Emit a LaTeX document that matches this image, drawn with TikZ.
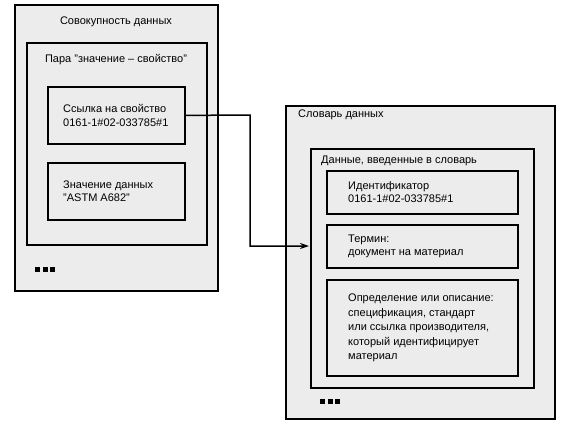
\documentclass[tikz,border=0pt]{standalone}
\usepackage{fontspec}
\setmainfont{Liberation Sans}
\usetikzlibrary{arrows.meta, positioning}

\definecolor{boxgray}{RGB}{236,236,236}

\begin{document}
\begin{tikzpicture}[
  x=1pt, y=-1pt,
  box/.style  = {draw, fill=boxgray, line width=1.8pt, anchor=north west,
                 inner sep=0pt},
  txt/.style  = {font=\fontsize{11}{13}\selectfont, align=left,
                 inner sep=0pt},
  wide/.style = {font=\fontsize{11}{14.5}\selectfont},
  arr/.style  = {-{Stealth[length=9pt, width=6pt]}, line width=1.5pt},
  dot/.style  = {fill=black},
]
  \useasboundingbox (0,0) rectangle (562,424);

  % left side: data set
  \node[box, minimum width=203pt, minimum height=286pt] (coll) at (14,4)   {};
  \node[box, minimum width=180pt, minimum height=202pt] (pair) at (26,42)  {};
  \node[box, minimum width=137pt, minimum height=57pt]  (ref)  at (47,86)  {};
  \node[box, minimum width=137pt, minimum height=57pt]  (val)  at (47,162) {};

  \node[txt] (collT) at (116,22) {Совокупность данных};
  \node[txt] (pairT) at (116,60) {Пара "значение – свойство"};
  \node[txt, wide, anchor=west] (refT) at ([xshift=16pt]ref.west)
    {Ссылка на свойство\\0161-1\#02-033785\#1};
  \node[txt, anchor=west] (valT) at ([xshift=16pt]val.west)
    {Значение данных\\"ASTM A682"};

  % right side: data dictionary
  \node[box, minimum width=269pt, minimum height=313pt] (dict)  at (285,105) {};
  \node[box, minimum width=223pt, minimum height=239pt] (entry) at (310,148) {};
  \node[box, minimum width=191pt, minimum height=43pt]  (ident) at (326,170) {};
  \node[box, minimum width=191pt, minimum height=43pt]  (term)  at (326,224) {};
  \node[box, minimum width=191pt, minimum height=96pt]  (defn)  at (326,279) {};

  \node[txt, anchor=west] (dictT)  at (298,115) {Словарь данных};
  \node[txt, anchor=west] (entryT) at (321,161) {Данные, введенные в словарь};
  \node[txt, anchor=west] (identT) at ([xshift=22pt]ident.west)
    {Идентификатор\\0161-1\#02-033785\#1};
  \node[txt, anchor=west] (termT)  at ([xshift=22pt]term.west)
    {Термин:\\документ на материал};
  \node[txt, wide, anchor=west] (defnT)  at ([xshift=22pt]defn.west)
    {Определение или описание:\\спецификация, стандарт\\или ссылка производителя,\\который идентифицирует\\материал};

  % "more" marks
  \foreach \x in {35,42.5,50} {
    \fill[dot] (\x,267) rectangle ++(5,5);
  }
  \foreach \x in {320,327.5,335} {
    \fill[dot] (\x,399) rectangle ++(5,5);
  }

  % reference link
  \coordinate (bend) at (250,115);
  \coordinate (tip)  at (309,246);
  \draw[arr] (ref.east) -- (bend) |- (tip);
\end{tikzpicture}
\end{document}
